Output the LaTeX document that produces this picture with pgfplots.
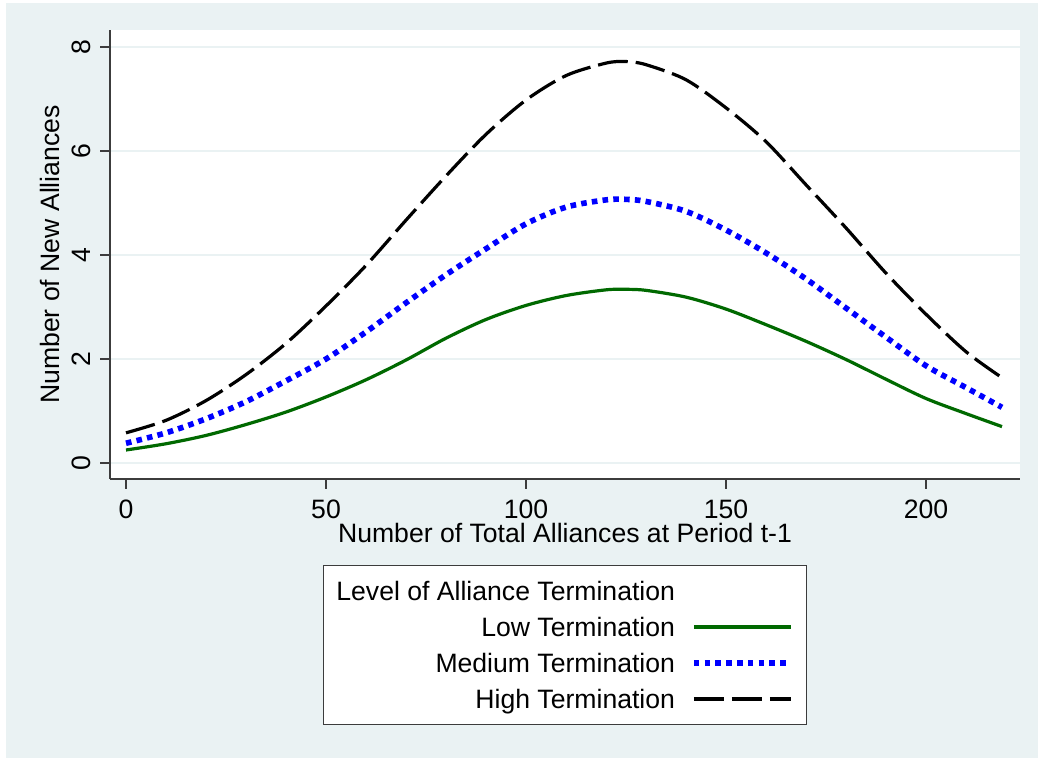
\documentclass[border=0pt]{standalone}
\usepackage{fontspec}
\setmainfont{Liberation Sans}
\usepackage{pgfplots}
\pgfplotsset{compat=1.18}
\usepackage{pgfplotstable}
\definecolor{bgc}{RGB}{234,242,243}
\definecolor{dkg}{RGB}{0,105,0}
\definecolor{axc}{RGB}{60,60,60}

\pgfplotstableread{
x low med high
0 0.25 0.38 0.58
10 0.37 0.58 0.82
20 0.53 0.85 1.20
30 0.74 1.18 1.70
40 0.98 1.58 2.30
50 1.27 2.00 3.02
60 1.60 2.52 3.80
70 1.98 3.08 4.67
80 2.40 3.62 5.52
90 2.76 4.12 6.32
100 3.03 4.60 6.98
110 3.22 4.92 7.45
120 3.33 5.06 7.69
125 3.34 5.07 7.72
130 3.32 5.03 7.66
140 3.19 4.84 7.37
150 2.96 4.48 6.83
160 2.66 4.04 6.18
170 2.34 3.54 5.35
180 1.99 2.98 4.52
190 1.61 2.42 3.65
200 1.24 1.87 2.86
210 0.95 1.45 2.14
219 0.70 1.07 1.64
}\datatable

\begin{document}
\begin{tikzpicture}[font=\fontsize{13.3}{16}\selectfont]
\useasboundingbox[fill=white] (-55pt,-139.5pt) rectangle (464pt,239.5pt);
\fill[bgc] (-52pt,-139.5pt) rectangle (464pt,238pt);
\begin{axis}[
  at={(0pt,0pt)}, anchor=south west,
  scale only axis, width=455pt, height=224.5pt,
  xmin=-4, xmax=223.5, ymin=-0.3077, ymax=8.327,
  axis background/.style={fill=white},
  axis x line*=bottom, axis y line*=left,
  axis line style={draw=axc, line width=0.6pt},
  xtick={0,50,100,150,200}, ytick={0,2,4,6,8},
  tick align=outside, major tick length=5pt,
  tick style={draw=axc, line width=0.6pt},
  minor tick num=0,
  ymajorgrids, major grid style={draw=bgc, line width=1.2pt},
  /pgf/number format/assume math mode=true,
  xticklabel style={anchor=base, inner sep=0pt, yshift=-15pt},
  yticklabel style={xshift=-5pt, rotate=90, anchor=base, inner sep=0pt},
  xlabel style={at={(axis description cs:0.5,0)}, anchor=base, inner sep=0pt, yshift=-32pt},
  ylabel style={at={(axis description cs:0,0.5)}, anchor=base, inner sep=0pt, yshift=25.5pt},
  xlabel={Number of Total Alliances at Period t-1},
  ylabel={Number of New Alliances},
  legend plot pos=right,
  legend cell align=right,
  legend image code/.code={\draw[#1] (0pt,0pt) -- (48.5pt,0pt);},
  legend style={at={(axis description cs:0.5,-0.1915)}, anchor=north,
    draw=axc, line width=0.6pt, fill=white,
    inner xsep=6.3pt, inner ysep=8pt,
    column sep=8pt, row sep=8.6pt,
    nodes={inner sep=0pt, text height=9.4pt, text depth=0pt},
    font=\fontsize{13.3}{16}\selectfont},
]
\addlegendimage{empty legend}
\addlegendentry{Level of Alliance Termination}
\addplot[dkg, line width=1.6pt, smooth, no markers] table[x=x, y=low] {\datatable};
\addlegendentry{Low Termination}
\addplot[blue, line width=2.8pt, dash pattern=on 2.8pt off 2.6pt, smooth, no markers] table[x=x, y=med] {\datatable};
\addlegendentry{Medium Termination}
\addplot[black, line width=1.6pt, dash pattern=on 15pt off 4pt, smooth, no markers] table[x=x, y=high] {\datatable};
\addlegendentry{High Termination}
\end{axis}
\end{tikzpicture}
\end{document}
